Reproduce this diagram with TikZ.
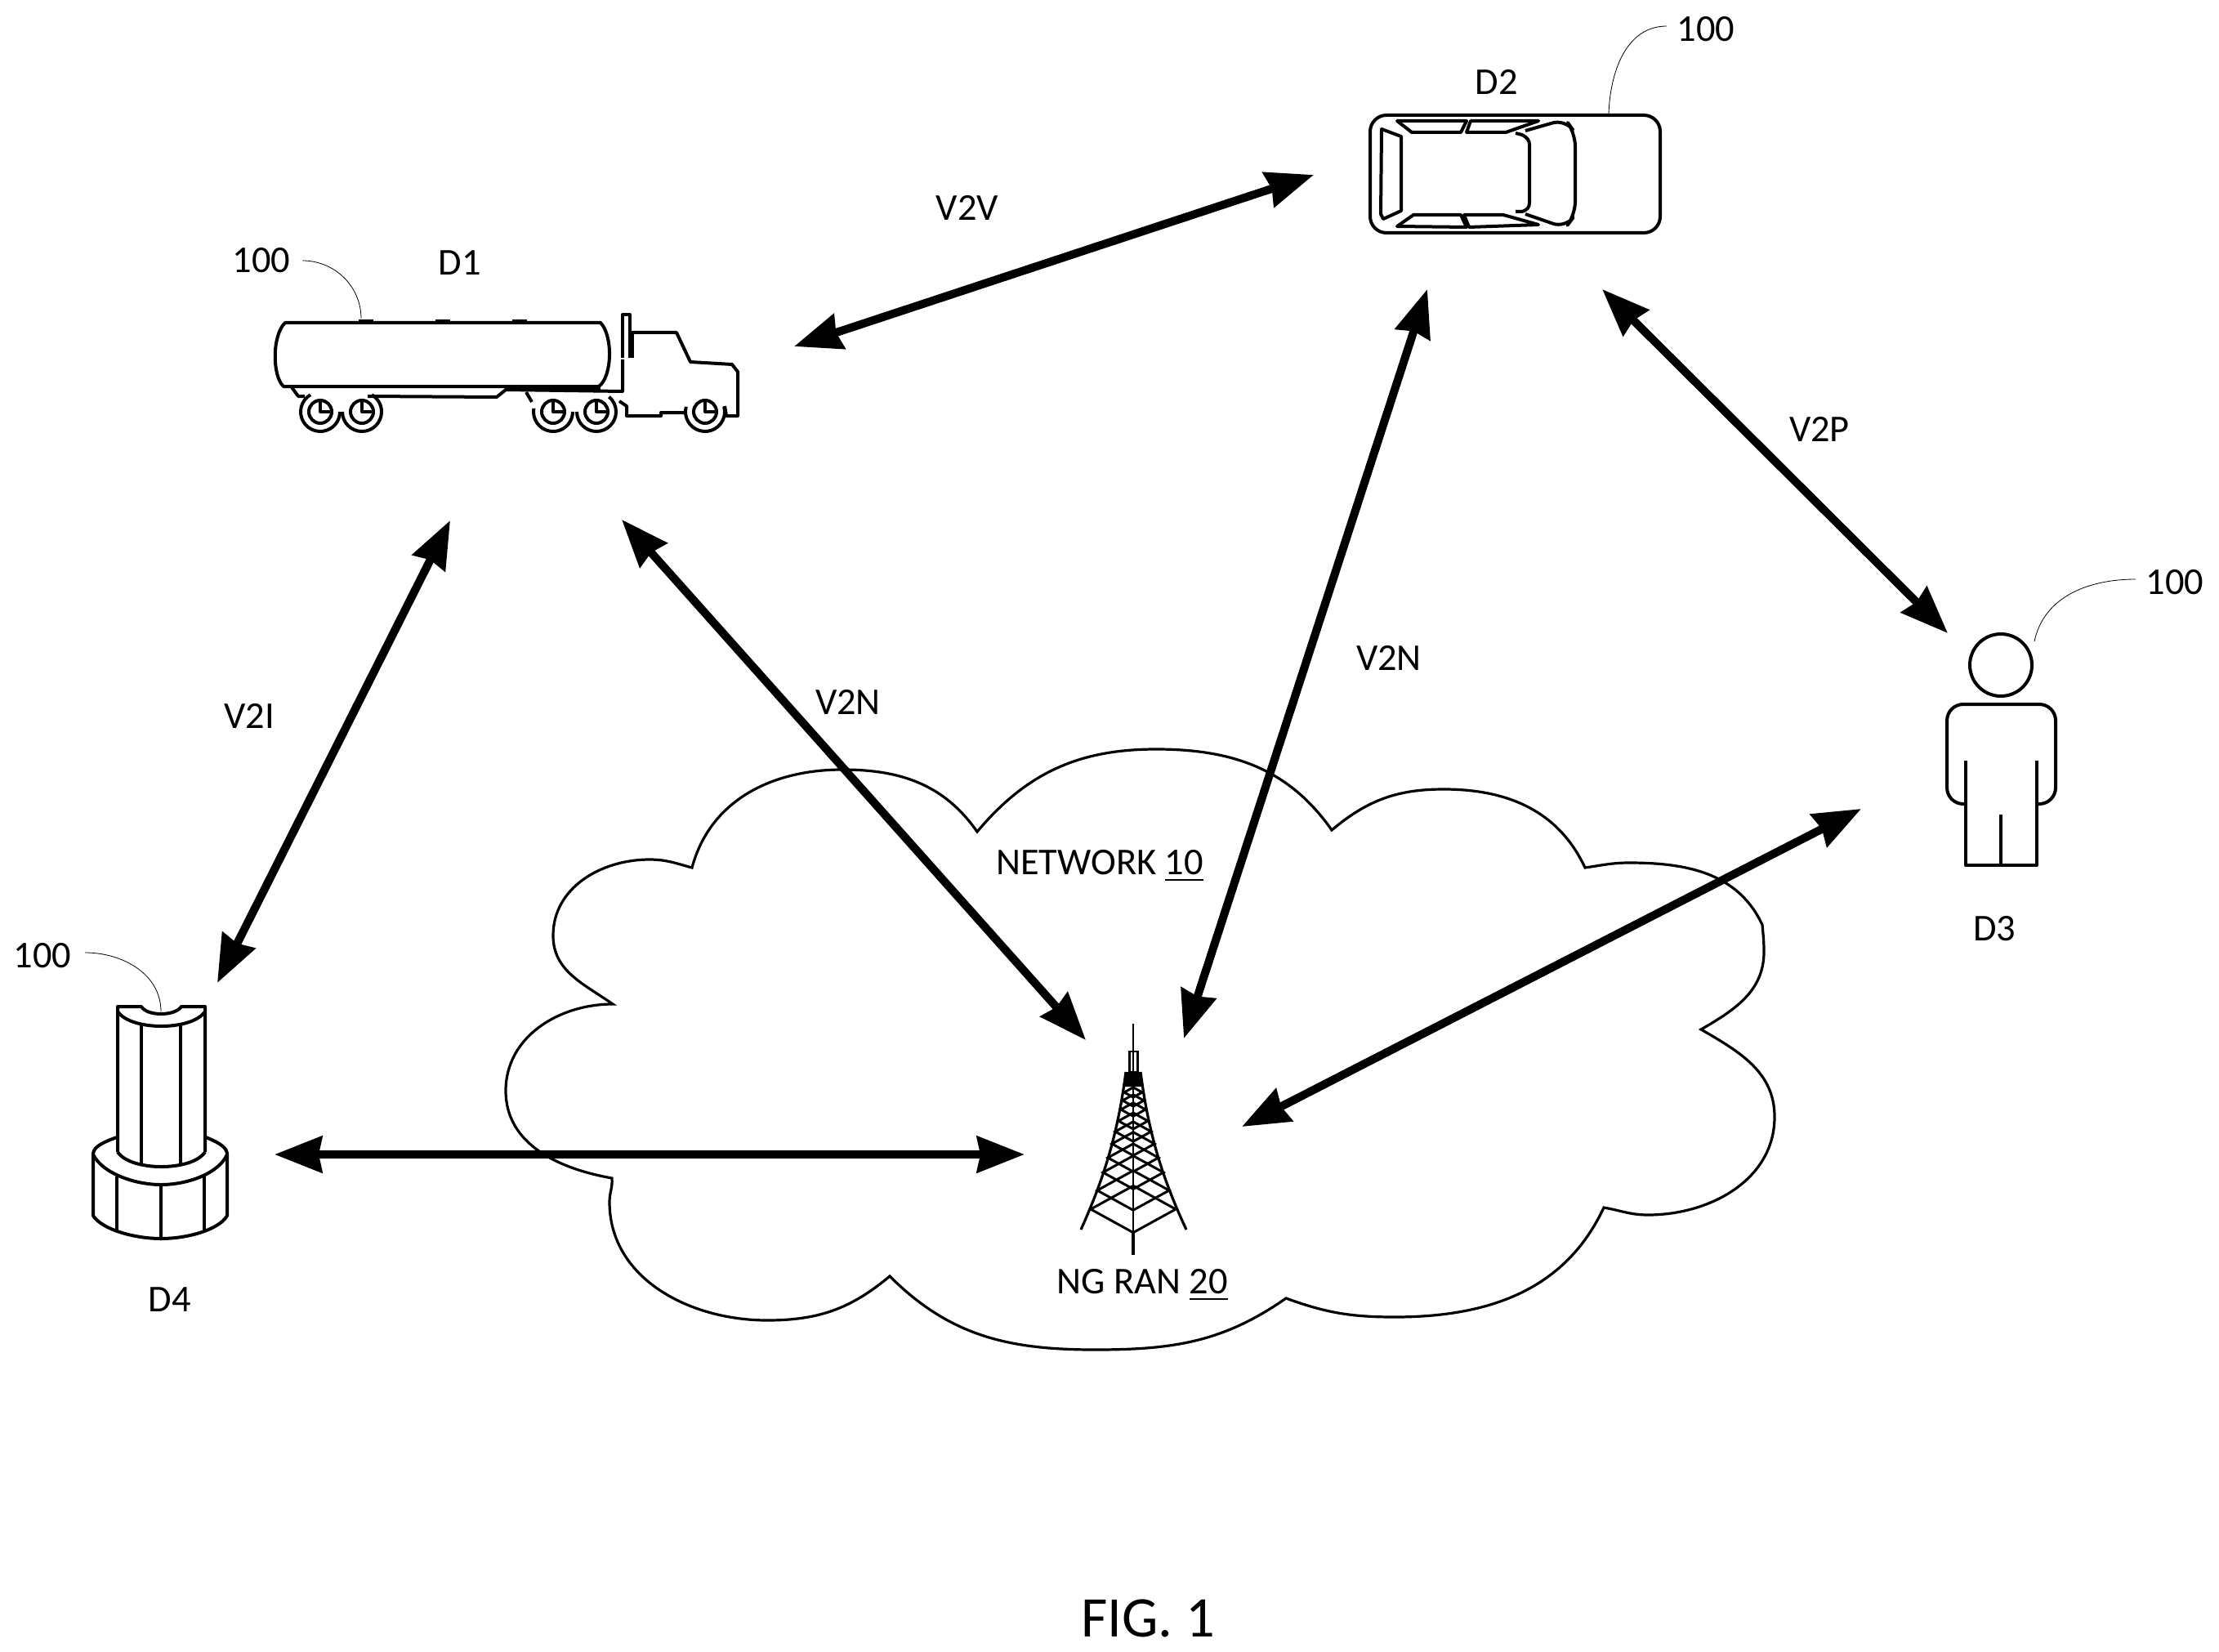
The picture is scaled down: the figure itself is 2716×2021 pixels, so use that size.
\documentclass[tikz,border=0pt]{standalone}
\usepackage{fontspec}
\setmainfont{Carlito}
\usepackage{amsmath}
\usetikzlibrary{arrows.meta, positioning}

\tikzset{
  lbl/.style={inner sep=0pt, font=\fontsize{11.6}{13}\selectfont},
  link/.style={line width=2.5pt, {Stealth[length=14.5pt,width=11pt,inset=1pt]}-{Stealth[length=14.5pt,width=11pt,inset=1pt]}},
  icon/.style={line width=1pt, line join=round},
  leader/.style={line width=0.2pt},
  cloudline/.style={line width=0.8pt, line join=miter}
}

\begin{document}
\begin{tikzpicture}[x=0.25pt, y=0.25pt]
  \useasboundingbox (0,0) rectangle (2716,-2021);

  % cloud
  \draw[cloudline] (1196,-1018) to[out=50,in=180] (1415,-917) to[out=0,in=125] (1630,-1016)
    to[out=40,in=180] (1767,-966) to[out=0,in=115] (1940,-1062)
    to[out=8,in=180] (1994,-1056) to[out=0,in=115] (2157,-1132)
    to[out=-85,in=90] (2159,-1165) to[out=-90,in=30] (2082,-1260)
    to[out=-30,in=90] (2172,-1367) to[out=-90,in=0] (2017,-1487)
    to[out=180,in=-10] (1963,-1478) to[out=-115,in=0] (1707,-1612)
    to[out=180,in=-20] (1574,-1589) to[out=-145,in=0] (1340,-1652)
    to[out=180,in=-45] (1089,-1562) to[out=-140,in=0] (939,-1616)
    to[out=180,in=-90] (746,-1471) to[out=90,in=-85] (749,-1442)
    to[out=170,in=-90] (619,-1335) to[out=90,in=180] (750,-1229)
    to[out=145,in=-90] (677,-1145) to[out=90,in=180] (795,-1052)
    to[out=0,in=165] (847,-1062) to[out=75,in=180] (1031,-942)
    to[out=0,in=125] cycle;

  % D1 truck
  \draw[icon] (349,-395) -- (735,-395) .. controls (750,-410) and (750,-460) .. (733,-473)
    -- (347,-473) .. controls (333,-460) and (333,-410) .. (349,-395) -- cycle;
  \foreach \nubx in {439,533,627}
    \fill (\nubx,-391) rectangle (\nubx+18,-395);
  \fill (619,-473) rectangle (735,-479);
  \draw[icon] (357,-474) -- (365,-485) -- (373,-485);
  \draw[icon] (450,-485) -- (608,-486) -- (619,-477) -- (762,-479) -- (762,-440);
  \draw[icon] (644,-480) -- (651,-492);
  \draw[icon] (762,-438) -- (762,-385) -- (771,-385) -- (771,-438);
  \fill (771,-407) rectangle (776,-438);
  \draw[icon] (773,-407) -- (828,-407) -- (845,-443) -- (896,-446) -- (903,-455) -- (903,-509) -- (889,-509) -- (887,-497);
  \draw[icon] (838,-505) -- (809,-505) -- (809,-509) -- (767,-509) -- (767,-497) -- (758,-491);
  \foreach \wx/\wa/\wb in {392/120/360, 443/180/420, 677/170/360, 730/180/410, 863/165/375}{
    \draw[icon] (\wx,-504) ++(\wa:24) arc[start angle=\wa, end angle=\wb, radius=24];
    \draw[icon] (\wx,-504) circle[radius=14];
    \draw[icon] (\wx,-490) -- (\wx,-504) -- (\wx+14,-504);
  }

  % D2 car
  \draw[icon] (1677,-141) [rounded corners=5pt] -- (2032,-141) -- (2032,-285) -- (1677,-285) -- cycle;
  \draw[icon] (1691,-158) -- (1715,-167) -- (1715,-258) -- (1693,-268) -- (1690,-262) -- cycle;
  \draw[icon] (1710,-148) -- (1795,-148) -- (1788,-162) -- (1728,-162) -- cycle;
  \draw[icon] (1800,-148) -- (1883,-148) -- (1843,-162) -- (1795,-162) -- cycle;
  \draw[icon] (1710,-277) -- (1730,-263) -- (1788,-263) -- (1795,-278) -- cycle;
  \draw[icon] (1792,-263) -- (1840,-263) -- (1883,-275) -- (1798,-278) -- cycle;
  \draw[icon, rounded corners=4pt] (1867,-160) -- (1916,-146) -- (1928,-163) -- (1928,-263) -- (1916,-279) -- (1867,-262);
  \draw[icon] (1855,-163) -- (1863,-165) .. controls (1869,-168) and (1872,-172) .. (1872,-177)
    -- (1872,-248) .. controls (1872,-254) and (1869,-257) .. (1863,-259) -- (1855,-259);

  % D3 person
  \draw[icon] (2449,-814) circle[radius=38];
  \draw[icon, rounded corners=5pt] (2406,-984) -- (2383,-984) -- (2383,-862) -- (2516,-862) -- (2516,-984) -- (2493,-984);
  \draw[icon] (2406,-931) -- (2406,-1059) -- (2493,-1059) -- (2493,-931);
  \draw[icon] (2449,-997) -- (2449,-1059);

  % D4 roadside unit
  \draw[icon] (144,-1410) -- (144,-1232) -- (173,-1232) .. controls (180,-1244) and (214,-1244) .. (222,-1232) -- (251,-1232) -- (251,-1410);
  \draw[icon] (144,-1238) .. controls (160,-1262) and (235,-1262) .. (251,-1238);
  \draw[icon] (144,-1410) .. controls (160,-1434) and (235,-1434) .. (251,-1410);
  \draw[icon] (173,-1254) -- (173,-1425);
  \draw[icon] (221,-1254) -- (221,-1425);
  \draw[icon] (143,-1392) .. controls (120,-1400) and (114,-1406) .. (114,-1413);
  \draw[icon] (252,-1392) .. controls (272,-1400) and (278,-1406) .. (278,-1413);
  \draw[icon] (114,-1413) .. controls (125,-1436) and (165,-1450) .. (197,-1450) .. controls (230,-1450) and (268,-1436) .. (278,-1413);
  \draw[icon] (114,-1413) -- (114,-1488) .. controls (125,-1505) and (165,-1516) .. (197,-1516)
    .. controls (230,-1516) and (268,-1505) .. (278,-1488) -- (278,-1413);
  \draw[icon] (143,-1440) -- (143,-1508);
  \draw[icon] (197,-1450) -- (197,-1516);
  \draw[icon] (250,-1440) -- (250,-1508);

  % tower
  \draw[line width=0.4pt] (1387,-1253) -- (1387,-1508);
  \draw[line width=0.6pt] (1382.5,-1287) rectangle (1392.5,-1312);
  \fill (1378,-1312) -- (1396,-1312) -- (1400,-1330) -- (1374,-1330) -- cycle;
  \draw[line width=0.8pt] (1378,-1312) .. controls (1368,-1390) and (1350,-1445) .. (1323,-1505);
  \draw[line width=0.8pt] (1396,-1312) .. controls (1406,-1390) and (1424,-1445) .. (1452,-1505);
  \draw[line width=0.9pt] (1387,-1508) -- (1387,-1536);
  \foreach \sy/\hw in {1480/52, 1457/44, 1435/37, 1417/31, 1400/26, 1385/22, 1372/18, 1358/15, 1347/13, 1337/11}
    \draw[line width=0.75pt] (1387,-\sy-0.55*\hw) -- (1387-\hw,-\sy) -- (1387,-\sy+0.55*\hw) -- (1387+\hw,-\sy) -- cycle;

  % texts
  \node[lbl] (d1) at (563,-322) {D1};
  \node[lbl] (d2) at (1832,-100) {D2};
  \node[lbl] (d3) at (2441,-1137) {D3};
  \node[lbl] (d4) at (208,-1591) {D4};
  \node[lbl] (ref1) at (320,-319) {100};
  \node[lbl] (ref2) at (2088,-36) {100};
  \node[lbl] (ref3) at (2662,-713) {100};
  \node[lbl] (ref4) at (52,-1170) {100};
  \node[lbl] (v2v) at (1184,-254) {V2V};
  \node[lbl] (v2i) at (305,-876) {V2I};
  \node[lbl] (v2nleft) at (1038,-859) {V2N};
  \node[lbl] (v2nright) at (1700,-805) {V2N};
  \node[lbl] (v2p) at (2227,-525) {V2P};
  \node[lbl] (network) at (1346,-1060) {NETWORK \underline{10}};
  \node[lbl] (ran) at (1398,-1573) {NG RAN \underline{20}};
  \node[inner sep=0pt, font=\fontsize{17.6}{20}\selectfont] (fig) at (1405,-1981) {FIG. 1};

  % reference leaders
  \coordinate (tank) at (442,-390);
  \coordinate (roof) at (1969,-139);
  \coordinate (head) at (2490,-785);
  \coordinate (post) at (197,-1238);
  \draw[leader] (ref1.east) ++(14,0) to[out=0,in=90] (tank);
  \draw[leader] (ref2.west) ++(-12,4) to[out=180,in=88] (roof);
  \draw[leader] (ref3.west) ++(-12,4) to[out=180,in=78] (head);
  \draw[leader] (ref4.east) ++(16,4) to[out=0,in=90] (post);

  % links
  \coordinate (d1a) at (972,-424);
  \coordinate (d2a) at (1608,-214);
  \coordinate (d1b) at (551,-637);
  \coordinate (d4b) at (266,-1203);
  \coordinate (d1c) at (761,-636);
  \coordinate (ranc) at (1329,-1273);
  \coordinate (d2d) at (1747,-354);
  \coordinate (rand) at (1449,-1271);
  \coordinate (d2e) at (1961,-354);
  \coordinate (d3e) at (2384,-775);
  \coordinate (d3f) at (2278,-990);
  \coordinate (ranf) at (1520,-1379);
  \coordinate (d4g) at (336,-1413);
  \coordinate (rang) at (1254,-1413);
  \path[link] (d1a) edge (d2a);
  \path[link] (d1b) edge (d4b);
  \path[link] (d1c) edge (ranc);
  \path[link] (d2d) edge (rand);
  \path[link] (d2e) edge (d3e);
  \path[link] (d3f) edge (ranf);
  \path[link] (d4g) edge (rang);
\end{tikzpicture}
\end{document}
